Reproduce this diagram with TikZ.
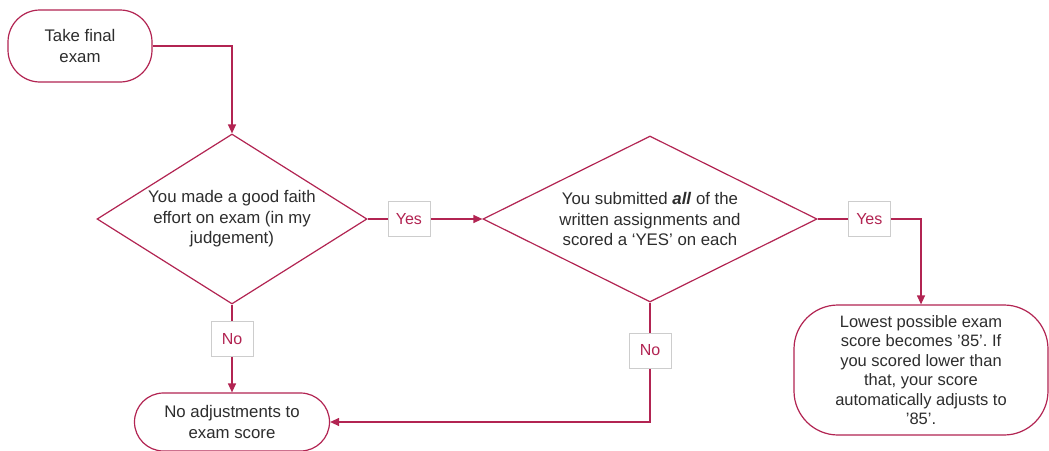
\documentclass[tikz,border=0pt]{standalone}
\usepackage{fontspec}
\setmainfont{Liberation Sans}
\usetikzlibrary{shapes.geometric,arrows.meta}

\definecolor{flowred}{RGB}{178,36,82}
\definecolor{textgray}{RGB}{45,45,45}
\definecolor{lblgray}{RGB}{205,205,205}

\begin{document}
\frenchspacing
\begin{tikzpicture}[x=1pt, y=-1pt,
    every node/.style={font=\fontsize{16.8}{20.5}\selectfont, text=textgray, align=center},
    term/.style={draw=flowred, line width=1.2pt, fill=white, inner sep=0pt, rounded corners=#1},
    decision/.style={diamond, draw=flowred, line width=1.2pt, fill=white, inner sep=0pt, shape aspect=#1},
    flow/.style={draw=flowred, line width=1.2pt, -{Triangle[length=9pt,width=8pt]}},
    lbl/.style={draw=lblgray, fill=white, line width=0.6pt, text=flowred,
        font=\fontsize{16}{19}\selectfont, inner sep=0pt, minimum width=42pt, minimum height=35pt}]
    \useasboundingbox (0,0) rectangle (1049,450);

    \node[term=32pt, minimum width=144pt, minimum height=72pt] (start) at (80,46) {Take final\\exam};
    \node[decision=1.59, minimum width=270pt, minimum height=170pt] (judge) at (232,219)
        {You made a good faith\\effort on exam (in my\\judgement)};
    \node[decision=2.01, minimum width=334pt, minimum height=166pt] (submit) at (650,219)
        {You submitted \textbf{\textit{all}} of the\\written assignments and\\scored a ‘YES’ on each};
    \node[term=29pt, minimum width=195pt, minimum height=58pt] (noadj) at (232,422)
        {No adjustments to\\exam score};
    \node[term=44pt, minimum width=254pt, minimum height=130pt,
        font=\fontsize{16.5}{19.5}\selectfont] (lowest) at (921,370)
        {Lowest possible exam\\score becomes ’85’. If\\you scored lower than\\that, your score\\automatically adjusts to\\’85’.};

    % connectors
    \draw[flow] (start.east) -| (judge.north);
    \draw[flow] (judge.east) -- node[lbl, pos=0.36]{Yes} (submit.west);
    \draw[flow] (judge.south) -- node[lbl, pos=0.39]{No} (noadj.north);
    \draw[flow] (submit.east) -| node[lbl, pos=0.25]{Yes} (lowest.north);
    \draw[flow] (submit.south) |- node[lbl, pos=0.2]{No} (noadj.east);
\end{tikzpicture}
\end{document}
